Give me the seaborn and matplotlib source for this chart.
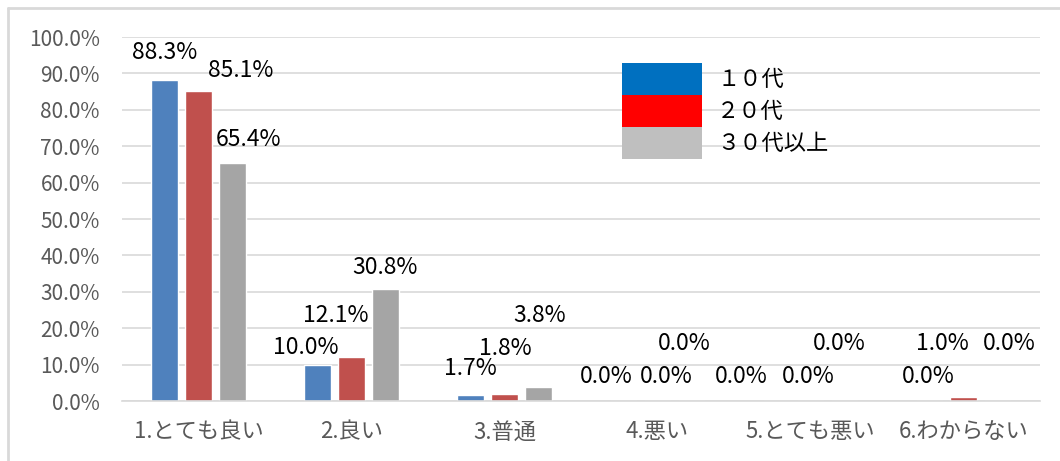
import matplotlib
matplotlib.use("Agg")
import matplotlib.pyplot as plt
import matplotlib.ticker as mticker
from matplotlib.patches import Patch
from matplotlib.lines import Line2D
import pandas as pd
import seaborn as sns

# -----------------------
# Data
# -----------------------
categories = ["1.とても良い", "2.良い", "3.普通", "4.悪い", "5.とても悪い", "6.わからない"]
series_names = ["10代", "20代", "30代以上"]
legend_labels = ["１０代", "２０代", "３０代以上"]
teens = [88.3, 10.0, 1.7, 0.0, 0.0, 0.0]
twenties = [85.1, 12.1, 1.8, 0.0, 0.0, 1.0]
thirties_plus = [65.4, 30.8, 3.8, 0.0, 0.0, 0.0]

bar_colors = ["#4F81BD", "#C0504D", "#A5A5A5"]
legend_colors = ["#0070C0", "#FF0000", "#BFBFBF"]

# label offsets (pixels, from top centre of each bar) - labels were moved by hand in the original
label_offsets = [
    [(0, 27), (-12, 17), (0, 26), (-17, 25), (-35, 25), (-1, 25)],
    [(42, 21), (-16, 41), (1, 46), (9, 25), (-2, 25), (-21, 54)],
    [(16, 23), (-1, 21), (1, 72), (-7, 58), (-5, 58), (12, 58)],
]

df = pd.DataFrame({
    "category": categories * 3,
    "group": [s for s in series_names for _ in categories],
    "value": teens + twenties + thirties_plus,
})

# -----------------------
# Plot
# -----------------------
sns.set_theme(style="white")
plt.rcParams["font.family"] = ["Noto Sans CJK JP", "DejaVu Sans"]

fig = plt.figure(figsize=(10.6, 4.61), dpi=100)
ax = fig.add_axes([122 / 1060, 1 - 401 / 461, (1040 - 122) / 1060, (401 - 37) / 461])

sns.barplot(data=df, x="category", y="value", hue="group", order=categories,
            hue_order=series_names, palette=bar_colors, saturation=1,
            width=0.667, gap=0.2, ax=ax, legend=False)

ax.set_ylim(0, 100)
ax.set_xlim(-0.5, len(categories) - 0.5)
ax.yaxis.set_major_locator(mticker.MultipleLocator(10))
ax.yaxis.set_major_formatter(mticker.FuncFormatter(lambda v, p: f"{v:.1f}%"))
ax.grid(axis="y", color="#D9D9D9", linewidth=1.2)
ax.set_axisbelow(True)
for s in ["top", "right", "left"]:
    ax.spines[s].set_visible(False)
ax.spines["bottom"].set_color("#D9D9D9")
ax.spines["bottom"].set_linewidth(1.2)
ax.set_xlabel("")
ax.set_ylabel("")
ax.tick_params(axis="y", labelsize=15, labelcolor="#595959", length=0, pad=16)
ax.tick_params(axis="x", labelsize=16, labelcolor="#595959", length=0, pad=14)

# data labels
for i, container in enumerate(ax.containers):
    for j, bar in enumerate(container):
        val = bar.get_height()
        dx, dy = label_offsets[i][j]
        ax.annotate(f"{val:.1f}%", (bar.get_x() + bar.get_width() / 2, val),
                    xytext=(dx, dy), textcoords="offset pixels",
                    ha="center", va="center", fontsize=16.5, color="#000000")

# legend block
handles = [Patch(facecolor=c, edgecolor="none") for c in legend_colors]
leg = fig.legend(handles, legend_labels, loc="upper left",
                 bbox_to_anchor=(622 / 1060, 1 - 63 / 461), bbox_transform=fig.transFigure,
                 frameon=False, fontsize=16, handlelength=3.6, handleheight=1.84,
                 labelspacing=0, handletextpad=0.68, borderpad=0, borderaxespad=0)
for t in leg.get_texts():
    t.set_color("#000000")

# chart area border (top and left)
fig.add_artist(Line2D([8 / 1060, 1], [1 - 8 / 461, 1 - 8 / 461], transform=fig.transFigure,
                      color="#D9D9D9", linewidth=2))
fig.add_artist(Line2D([8 / 1060, 8 / 1060], [0, 1 - 8 / 461], transform=fig.transFigure,
                      color="#D9D9D9", linewidth=2))

fig.savefig("out.png", dpi=100)
